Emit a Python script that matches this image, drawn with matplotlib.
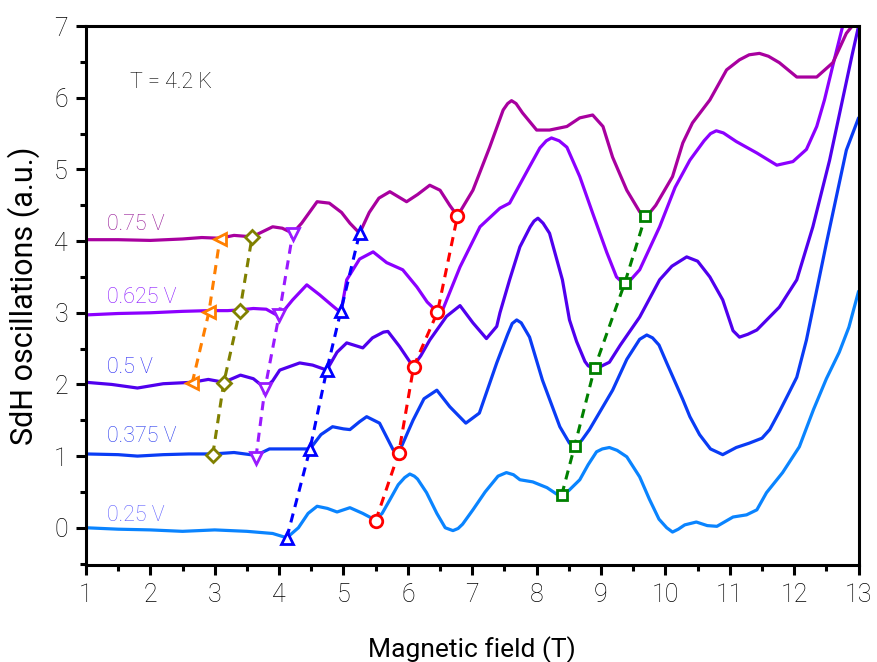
import matplotlib
matplotlib.use("Agg")
import matplotlib.pyplot as plt
from matplotlib.ticker import MultipleLocator

OUTPUT_CHART = "out.png"

# --- SdH curves (field in T, signal offset per gate voltage) ---
B_025 = [1.0, 1.5, 2.0, 2.5, 3.0, 3.5, 3.9, 4.12, 4.3, 4.45, 4.59, 4.75, 4.9, 5.1, 5.3, 5.49,
         5.6, 5.72, 5.85, 5.95, 6.03, 6.1, 6.15, 6.29, 6.45, 6.58, 6.7, 6.78, 6.85, 7.01, 7.2,
         7.4, 7.53, 7.64, 7.74, 7.94, 8.16, 8.31, 8.39, 8.5, 8.67, 8.8, 8.93, 9.02, 9.13, 9.25,
         9.4, 9.6, 9.75, 9.9, 10.02, 10.11, 10.2, 10.3, 10.48, 10.65, 10.8, 11.05, 11.26,
         11.42, 11.57, 11.82, 12.08, 12.3, 12.5, 12.7, 12.85, 13.0]
S_025 = [0.0, -0.02, -0.03, -0.05, -0.03, -0.05, -0.08, -0.14, 0.0, 0.2, 0.3, 0.27, 0.22, 0.28,
         0.2, 0.11, 0.2, 0.39, 0.6, 0.7, 0.75, 0.72, 0.68, 0.49, 0.2, 0.0, -0.04, -0.01, 0.05,
         0.25, 0.5, 0.72, 0.77, 0.74, 0.67, 0.64, 0.56, 0.47, 0.46, 0.52, 0.67, 0.88, 1.06,
         1.1, 1.12, 1.08, 0.99, 0.71, 0.4, 0.12, 0.0, -0.06, -0.02, 0.04, 0.08, 0.03, 0.02,
         0.15, 0.18, 0.25, 0.49, 0.77, 1.13, 1.65, 2.08, 2.45, 2.8, 3.3]

B_0375 = [1.0, 1.5, 1.8, 2.2, 2.6, 2.97, 3.3, 3.64, 3.85, 4.1, 4.3, 4.48, 4.65, 4.83, 5.0,
          5.1, 5.25, 5.36, 5.56, 5.77, 5.86, 6.08, 6.25, 6.45, 6.65, 6.9, 7.11, 7.38, 7.55,
          7.62, 7.69, 7.76, 7.89, 8.09, 8.36, 8.51, 8.6, 8.7, 8.82, 9.18, 9.4, 9.6, 9.71, 9.8,
          9.9, 10.02, 10.27, 10.38, 10.53, 10.7, 10.89, 11.1, 11.3, 11.5, 11.62, 11.77, 11.9,
          12.04, 12.19, 12.5, 12.81, 13.0]
S_0375 = [1.03, 1.02, 1.0, 1.02, 1.03, 1.03, 1.05, 1.01, 1.1, 1.1, 1.1, 1.1, 1.3, 1.41, 1.38,
          1.37, 1.48, 1.55, 1.46, 1.09, 1.05, 1.5, 1.8, 1.92, 1.69, 1.46, 1.6, 2.3, 2.7,
          2.85, 2.9, 2.86, 2.66, 2.06, 1.41, 1.18, 1.14, 1.22, 1.37, 1.92, 2.35, 2.63, 2.69,
          2.65, 2.55, 2.3, 1.79, 1.55, 1.3, 1.1, 1.02, 1.12, 1.18, 1.25, 1.37, 1.62, 1.85,
          2.1, 2.62, 3.97, 5.27, 5.72]

B_05 = [1.0, 1.4, 1.8, 2.2, 2.65, 2.9, 3.14, 3.4, 3.6, 3.78, 3.9, 4.01, 4.32, 4.52, 4.74,
        4.9, 5.05, 5.3, 5.45, 5.62, 5.69, 5.87, 6.08, 6.2, 6.34, 6.6, 6.81, 7.01, 7.22, 7.38,
        7.43, 7.58, 7.74, 7.9, 7.96, 8.02, 8.1, 8.2, 8.4, 8.51, 8.62, 8.75, 8.8, 8.87, 8.97,
        9.13, 9.3, 9.6, 9.91, 10.1, 10.33, 10.5, 10.69, 10.89, 11.05, 11.15, 11.28, 11.42,
        11.77, 12.04, 12.29, 12.55, 12.75, 12.9, 13.0]
S_05 = [2.03, 2.0, 1.95, 2.01, 2.03, 2.07, 2.03, 2.13, 2.08, 1.95, 2.05, 2.2, 2.3, 2.27, 2.2,
        2.45, 2.58, 2.51, 2.65, 2.73, 2.74, 2.53, 2.25, 2.4, 2.62, 2.95, 3.1, 2.86, 2.64, 2.81,
        3.0, 3.46, 3.92, 4.2, 4.28, 4.32, 4.25, 4.11, 3.46, 2.9, 2.6, 2.32, 2.26, 2.23, 2.24,
        2.31, 2.55, 2.94, 3.46, 3.65, 3.78, 3.72, 3.5, 3.18, 2.75, 2.66, 2.7, 2.76,
        3.08, 3.46, 4.2, 5.13, 5.97, 6.6, 7.0]

B_0625 = [1.0, 1.5, 2.0, 2.5, 2.91, 3.2, 3.39, 3.6, 3.8, 4.0, 4.21, 4.43, 4.63, 4.8, 4.96,
          5.05, 5.25, 5.46, 5.67, 5.92, 6.14, 6.3, 6.46, 6.54, 6.81, 7.12, 7.43, 7.58, 7.89,
          8.05, 8.15, 8.23, 8.35, 8.47, 8.67, 8.87, 9.09, 9.24, 9.3, 9.37, 9.47, 9.6, 9.91,
          10.15, 10.38, 10.6, 10.7, 10.79, 10.9, 11.1, 11.42, 11.73, 11.98, 12.19, 12.35,
          12.47, 12.6, 12.75]
S_0625 = [2.97, 2.99, 3.0, 3.02, 3.03, 3.03, 3.04, 3.06, 3.05, 2.95, 3.18, 3.39, 3.25, 3.12, 3.0,
          3.46, 3.75, 3.85, 3.7, 3.6, 3.36, 3.15, 3.01, 3.04, 3.64, 4.2, 4.46, 4.53, 5.04,
          5.3, 5.4, 5.44, 5.4, 5.31, 4.9, 4.39, 3.84, 3.5, 3.45, 3.42, 3.47, 3.6, 4.2,
          4.75, 5.13, 5.4, 5.5, 5.54, 5.51, 5.39, 5.23, 5.06, 5.11, 5.28, 5.6,
          5.97, 6.45, 6.99]

B_075 = [1.0, 1.5, 2.0, 2.5, 2.8, 3.08, 3.3, 3.58, 3.9, 4.05, 4.21, 4.35, 4.59, 4.78, 4.97,
         5.1, 5.25, 5.4, 5.55, 5.72, 5.98, 6.15, 6.34, 6.5, 6.65, 6.77, 7.01, 7.27, 7.48, 7.55,
         7.61, 7.68, 7.78, 8.0, 8.2, 8.47, 8.67, 8.87, 9.03, 9.18, 9.4, 9.6, 9.69, 9.76, 9.85,
         10.11, 10.27, 10.42, 10.69, 10.95, 11.15, 11.3, 11.46, 11.6, 11.77, 12.04, 12.35,
         12.6, 12.81, 12.9]
S_075 = [4.02, 4.02, 4.01, 4.03, 4.05, 4.04, 4.08, 4.06, 4.2, 4.18, 4.11, 4.25, 4.55, 4.53, 4.4,
         4.25, 4.11, 4.4, 4.6, 4.69, 4.55, 4.65, 4.78, 4.71, 4.5, 4.35, 4.71, 5.31, 5.83, 5.92,
         5.96, 5.92, 5.79, 5.55, 5.55, 5.6, 5.72, 5.76, 5.6, 5.17, 4.71, 4.41, 4.35, 4.4, 4.5,
         4.9, 5.37, 5.65, 5.97, 6.39, 6.53, 6.6, 6.62, 6.58, 6.49, 6.29, 6.29,
         6.49, 6.9, 7.0]

CURVE_LABELS = ["0.25 V", "0.375 V", "0.5 V", "0.625 V", "0.75 V"]
LABEL_Y = [0.17, 1.27, 2.23, 3.22, 4.23]

# --- Tracked oscillation extrema (one series per Landau level) ---
ORANGE_B = [2.65, 2.91, 3.08]
ORANGE_S = [2.02, 3.01, 4.03]
OLIVE_B = [2.97, 3.14, 3.39, 3.58]
OLIVE_S = [1.02, 2.02, 3.03, 4.06]
VIOLET_B = [3.64, 3.78, 4.0, 4.21]
VIOLET_S = [0.98, 1.94, 2.97, 4.1]
BLUE_B = [4.12, 4.48, 4.74, 4.96, 5.25]
BLUE_S = [-0.14, 1.10, 2.2, 3.03, 4.11]
RED_B = [5.5, 5.86, 6.09, 6.46, 6.77]
RED_S = [0.1, 1.05, 2.25, 3.01, 4.35]
GREEN_B = [8.39, 8.59, 8.9, 9.37, 9.69]
GREEN_S = [0.46, 1.14, 2.23, 3.42, 4.35]

COLORS = {
    'c025': '#0A84FF',
    'c0375': '#0A3CF5',
    'c05': '#5000EE',
    'c0625': '#8C00FF',
    'c075': '#A8009F',
    'text': '#000000',
}
LABEL_COLORS = ['#6060FF', '#2A3CEE', '#2A2AF5', '#8A15FF', '#961896']

FONT = ['Roboto', 'DejaVu Sans']


def create_chart():
    plt.rcParams['font.family'] = FONT
    plt.rcParams['font.weight'] = 'light'

    fig = plt.figure(figsize=(8.77, 6.62), dpi=100)
    ax = fig.add_axes([0.098, 0.1465, 0.881, 0.814])

    curves = [(B_025, S_025, COLORS['c025']), (B_0375, S_0375, COLORS['c0375']),
              (B_05, S_05, COLORS['c05']), (B_0625, S_0625, COLORS['c0625']),
              (B_075, S_075, COLORS['c075'])]
    for b, s, c in curves:
        ax.plot(b, s, color=c, lw=2.3, solid_joinstyle='round', solid_capstyle='round',
                zorder=2)

    for lab, y, c in zip(CURVE_LABELS, LABEL_Y, LABEL_COLORS):
        ax.text(1.32, y, lab, color=c, fontsize=15.5, va='center', ha='left')

    markers = [(ORANGE_B, ORANGE_S, '#FF7F00', '<'), (OLIVE_B, OLIVE_S, '#808000', 'D'),
               (VIOLET_B, VIOLET_S, '#9A1AFF', 'v'), (BLUE_B, BLUE_S, '#0000FF', '^'),
               (RED_B, RED_S, '#FF0000', 'o'), (GREEN_B, GREEN_S, '#008000', 's')]
    for b, s, c, m in markers:
        ax.plot(b, s, color=c, lw=2.2, ls=(0, (3, 2.2)), zorder=3)
        ms = 7.5 if m in ('D', 's') else 9
        ax.plot(b, s, ls='none', marker=m, ms=ms, mfc='white', mec=c, mew=2, zorder=4)

    ax.text(1.68, 6.22, "T = 4.2 K", fontsize=15.5, color=COLORS['text'], va='center')

    ax.set_xlim(1, 13)
    ax.set_ylim(-0.52, 7)
    ax.xaxis.set_major_locator(MultipleLocator(1))
    ax.xaxis.set_minor_locator(MultipleLocator(0.5))
    ax.yaxis.set_major_locator(MultipleLocator(1))
    ax.yaxis.set_minor_locator(MultipleLocator(0.5))
    ax.tick_params(which='major', direction='out', length=7, width=2.2,
                   labelsize=18, colors='black', labelcolor=COLORS['text'], pad=6)
    ax.tick_params(which='minor', direction='out', length=4, width=2.2)
    ax.tick_params(top=False, right=False, which='both')
    for spine in ax.spines.values():
        spine.set_linewidth(2.2)
        spine.set_edgecolor('black')

    ax.set_xlabel("Magnetic field (T)", fontsize=19, color=COLORS['text'], labelpad=21)
    ax.set_ylabel("SdH oscillations (a.u.)", fontsize=22, color=COLORS['text'], labelpad=10)

    fig.savefig(OUTPUT_CHART, dpi=100)


if __name__ == "__main__":
    create_chart()
